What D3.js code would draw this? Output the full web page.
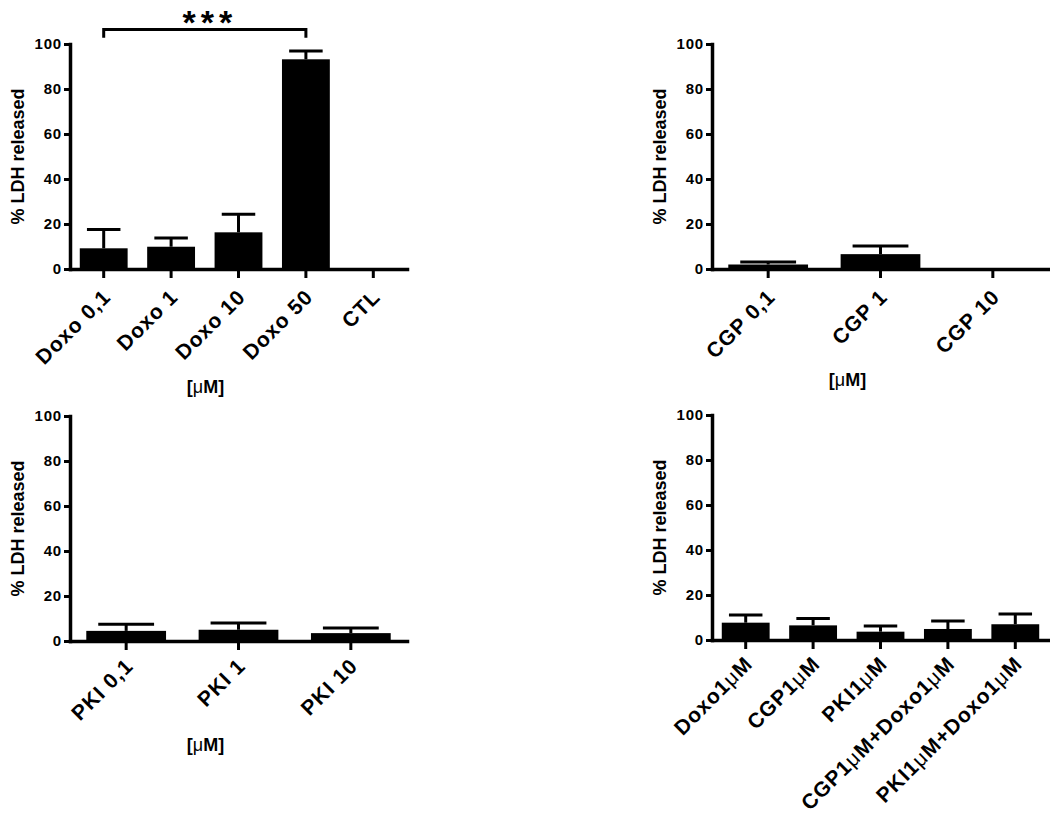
<!DOCTYPE html>
<html>
<head>
<meta charset="utf-8">
<script src="https://cdn.jsdelivr.net/npm/d3@7"></script>
<style>
  body { margin: 0; background: #fff; }
  svg { display: block; }
  text { font-family: "Liberation Sans", Arial, sans-serif; font-weight: bold; fill: #000; }
</style>
</head>
<body>
<div class="chart"></div>
<script>
var w = 1050,
  h = 819;

// panel A: doxorubicin doses
var doxoCats = ['Doxo 0,1', 'Doxo 1', 'Doxo 10', 'Doxo 50', 'CTL'];
var doxoMean = [9.2, 9.9, 16.3, 93.2, 0];
var doxoSem = [8.4, 3.9, 8.0, 3.7, 0];

// panel B: CGP doses
var cgpCats = ['CGP 0,1', 'CGP 1', 'CGP 10'];
var cgpMean = [2.0, 6.6, 0];
var cgpSem = [1.1, 3.6, 0];

// panel C: PKI doses
var pkiCats = ['PKI 0,1', 'PKI 1', 'PKI 10'];
var pkiMean = [4.5, 5.0, 3.5];
var pkiSem = [2.9, 3.0, 2.3];

// panel D: combinations
var comboCats = ['Doxo1μM', 'CGP1μM', 'PKI1μM', 'CGP1μM+Doxo1μM', 'PKI1μM+Doxo1μM'];
var comboMean = [7.7, 6.5, 3.7, 4.9, 7.0];
var comboSem = [3.4, 3.1, 2.5, 3.5, 4.6];

var yTicks = [0, 20, 40, 60, 80, 100];
var yTitle = '% LDH released';
var unitLabel = '[μM]';
var sigPairs = [['Doxo 0,1', 'Doxo 50', '***']];

var svg = d3.select('.chart')
  .append('svg')
  .attr('width', w)
  .attr('height', h);

// writes a label, drawing the mu sign in a lighter weight like the original
var writeLabel = function (sel, str) {
  sel.text(null);
  str.split(/(μ)/).forEach(function (part) {
    if (!part) return;
    var t = sel.append('tspan').text(part);
    if (part === 'μ') t.style('font-weight', 'normal');
  });
}

var drawPanel = function (opt) {
  var x = d3.scaleBand()
    .domain(opt.cats)
    .range([opt.left, opt.left + 337])
    .paddingInner(0.29)
    .paddingOuter(0.145);

  var y = d3.scaleLinear()
    .domain([0, 100])
    .range([opt.bottom, opt.bottom - 225]);

  var g = svg.append('g');
  var bw = x.bandwidth();
  var capW = bw * 0.7;

  var data = opt.cats.map(function (c, i) {
    return { cat: c, mean: opt.mean[i], sem: opt.sem[i] };
  });

  // error bars (upper half only)
  g.selectAll('line.err')
    .data(data.filter(function (d) { return d.sem > 0; }))
    .enter()
    .append('line')
    .attr('x1', function (d) { return x(d.cat) + bw / 2; })
    .attr('x2', function (d) { return x(d.cat) + bw / 2; })
    .attr('y1', function (d) { return y(d.mean); })
    .attr('y2', function (d) { return y(d.mean + d.sem); })
    .attr('stroke', '#000')
    .attr('stroke-width', 3);

  g.selectAll('line.cap')
    .data(data.filter(function (d) { return d.sem > 0; }))
    .enter()
    .append('line')
    .attr('x1', function (d) { return x(d.cat) + bw / 2 - capW / 2; })
    .attr('x2', function (d) { return x(d.cat) + bw / 2 + capW / 2; })
    .attr('y1', function (d) { return y(d.mean + d.sem); })
    .attr('y2', function (d) { return y(d.mean + d.sem); })
    .attr('stroke', '#000')
    .attr('stroke-width', 3);

  g.selectAll('rect')
    .data(data)
    .enter()
    .append('rect')
    .attr('x', function (d) { return x(d.cat); })
    .attr('width', bw)
    .attr('y', function (d) { return y(d.mean); })
    .attr('height', function (d) { return y(0) - y(d.mean); })
    .attr('fill', '#000');

  // y axis
  var ya = g.append('g')
    .attr('transform', 'translate(' + opt.left + ',0)')
    .call(d3.axisLeft(y).tickValues(yTicks).tickSize(6).tickSizeOuter(0).tickPadding(2));
  ya.select('.domain').attr('stroke-width', 3.5).attr('stroke-linecap', 'square');
  ya.selectAll('.tick line').attr('stroke-width', 3);
  ya.selectAll('.tick text')
    .attr('font-family', null)
    .style('font-size', '15px')
    .style('letter-spacing', '0.8px');

  // x axis
  var xa = g.append('g')
    .attr('transform', 'translate(0,' + opt.bottom + ')')
    .call(d3.axisBottom(x).tickSize(9).tickSizeOuter(0));
  xa.select('.domain').attr('stroke-width', 3.5).attr('stroke-linecap', 'square');
  xa.selectAll('.tick line').attr('stroke-width', 3);
  xa.selectAll('.tick text')
    .attr('font-family', null)
    .style('font-size', opt.labelSize + 'px')
    .style('letter-spacing', '1px')
    .attr('text-anchor', 'end')
    .attr('x', 0)
    .attr('y', 0)
    .attr('dy', '0.35em')
    .attr('transform', 'translate(3,' + opt.labelOff + ') rotate(-45)')
    .each(function (d) { writeLabel(d3.select(this), d); });

  // y title
  g.append('text')
    .attr('transform', 'translate(' + (opt.left - 46) + ',' + y(50) + ') rotate(-90)')
    .attr('text-anchor', 'middle')
    .style('font-size', '18px')
    .text(yTitle);

  if (opt.unitY) {
    g.append('text')
      .attr('x', opt.left + 337 / 2 - 33)
      .attr('y', opt.unitY)
      .attr('text-anchor', 'middle')
      .style('font-size', '18px')
      .call(writeLabel, unitLabel);
  }

  if (opt.sig) {
    opt.sig.forEach(function (s) {
      var xa1 = x(s[0]) + bw / 2,
        xb1 = x(s[1]) + bw / 2,
        yl = y(106.5),
        yt = y(102.8);
      g.append('path')
        .attr('d', 'M' + xa1 + ',' + yt + 'V' + yl + 'H' + xb1 + 'V' + yt)
        .attr('fill', 'none')
        .attr('stroke', '#000')
        .attr('stroke-width', 3);
      g.append('text')
        .attr('x', (xa1 + xb1) / 2 + 5)
        .attr('y', yl + 5)
        .attr('text-anchor', 'middle')
        .style('font-size', '34px')
        .style('letter-spacing', '5px')
        .text(s[2]);
    });
  }
}

drawPanel({ cats: doxoCats, mean: doxoMean, sem: doxoSem, left: 70, bottom: 269, labelSize: 21, labelOff: 24, unitY: 393, sig: sigPairs });
drawPanel({ cats: cgpCats, mean: cgpMean, sem: cgpSem, left: 712, bottom: 269, labelSize: 21, labelOff: 24, unitY: 386 });
drawPanel({ cats: pkiCats, mean: pkiMean, sem: pkiSem, left: 70, bottom: 641, labelSize: 21, labelOff: 21, unitY: 751 });
drawPanel({ cats: comboCats, mean: comboMean, sem: comboSem, left: 712, bottom: 640, labelSize: 21, labelOff: 20 });
</script>
</body>
</html>
